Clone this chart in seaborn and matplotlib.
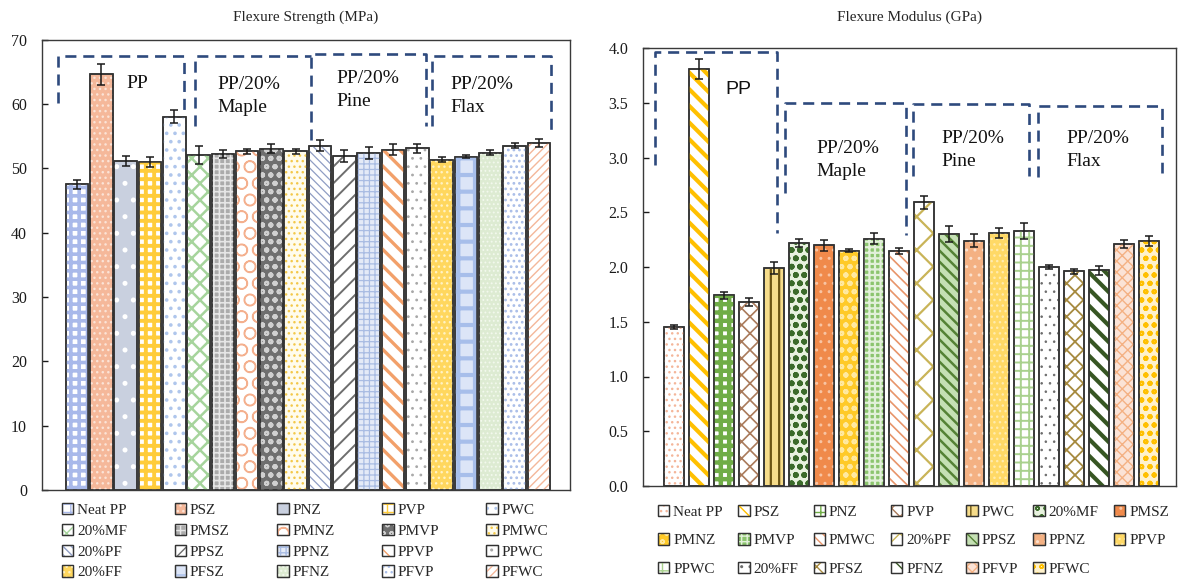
import math
import pandas as pd
import matplotlib
matplotlib.use("Agg")
import matplotlib.pyplot as plt
import matplotlib.patches as mpatches
from matplotlib.legend_handler import HandlerTuple
import seaborn as sns

# ---------------------------------------------------------------- data
samples = ["Neat PP", "PSZ", "PNZ", "PVP", "PWC",
           "20%MF", "PMSZ", "PMNZ", "PMVP", "PMWC",
           "20%PF", "PPSZ", "PPNZ", "PPVP", "PPWC",
           "20%FF", "PFSZ", "PFNZ", "PFVP", "PFWC"]

strength_mpa = [47.5, 64.6, 51.1, 51.0, 58.0,
                52.0, 52.2, 52.6, 53.0, 52.6,
                53.5, 51.9, 52.4, 52.9, 53.1,
                51.3, 51.8, 52.4, 53.5, 53.9]
strength_err = [0.7, 1.6, 0.8, 0.8, 1.0,
                1.4, 0.6, 0.35, 0.7, 0.35,
                0.9, 0.9, 0.9, 0.8, 0.7,
                0.4, 0.2, 0.4, 0.4, 0.6]

modulus_gpa = [1.45, 3.81, 1.74, 1.68, 1.99,
               2.22, 2.20, 2.15, 2.26, 2.145,
               2.59, 2.30, 2.24, 2.31, 2.33,
               2.00, 1.96, 1.97, 2.21, 2.24]
modulus_err = [0.02, 0.09, 0.03, 0.04, 0.055,
               0.035, 0.05, 0.01, 0.05, 0.03,
               0.06, 0.07, 0.06, 0.045, 0.07,
               0.015, 0.02, 0.04, 0.035, 0.045]

group_names = ["PP", "PP/20%\nMaple", "PP/20%\nPine", "PP/20%\nFlax"]

# ---------------------------------------------------------------- styles
# (face colour, hatch, hatch colour, hatch line width)
strength_styles = [
    ("#FFFFFF", "++",   "#A9B9EA", 2.6),
    ("#F5B89A", "...",  "#FBE3D6", 1.0),
    ("#C9D0DF", ".",    "#FFFFFF", 1.2),
    ("#FFFFFF", "++",   "#FFCC3A", 2.8),
    ("#FFFFFF", "..",   "#AFC6EC", 1.4),
    ("#FFFFFF", "xx",   "#A6D49C", 1.8),
    ("#ABABAB", "+++",  "#E6E6E6", 1.2),
    ("#FFFFFF", "O",    "#F4B08E", 1.0),
    ("#6F6F6F", "oo",   "#D0D0D0", 1.4),
    ("#FFFCEC", "...",  "#F3C84A", 1.0),
    ("#FFFFFF", "\\\\\\\\", "#8F9DC4", 0.9),
    ("#FFFFFF", "//",   "#6E6E6E", 1.4),
    ("#E4EAF7", "+++",  "#A9BCE3", 0.9),
    ("#FFFFFF", "\\\\", "#F2A06A", 2.4),
    ("#FFFFFF", "..",   "#A8A8A8", 0.8),
    ("#FFD75E", "...",  "#FFF2C4", 1.0),
    ("#DCE5F7", "+",    "#A7BEEA", 3.0),
    ("#DDEBD2", "....", "#F3F9EE", 0.8),
    ("#FFFFFF", "...",  "#A9BDE8", 1.2),
    ("#FFFFFF", "////", "#F4B79A", 1.0),
]

modulus_styles = [
    ("#FFFFFF", "...",  "#F4B69A", 1.0),
    ("#FFFFFF", "\\\\", "#FFC000", 3.0),
    ("#FFFFFF", "++",   "#70AD47", 3.2),
    ("#FFFFFF", "xx",   "#A97A5B", 1.2),
    ("#F6DC8A", "||",   "#6B5312", 1.6),
    ("#E8F2DF", "oo",   "#3B6B2A", 1.8),
    ("#F08A4B", "..",   "#F8C4A3", 1.0),
    ("#FFCA28", "oo",   "#FFE9A0", 1.4),
    ("#8CC56E", "+++",  "#E2F0D9", 1.6),
    ("#FFFFFF", "\\\\\\", "#E8956A", 1.2),
    ("#FFFFFF", "x",    "#C9B458", 1.6),
    ("#C5E0B4", "\\\\\\", "#548235", 1.8),
    ("#F4B183", "..",   "#FBE0CD", 1.0),
    ("#FFD966", "...",  "#FFEBAE", 1.0),
    ("#FFFFFF", "++",   "#A9D18E", 1.4),
    ("#FFFFFF", "..",   "#6A6A6A", 0.6),
    ("#FFFFFF", "xx",   "#A68A3F", 1.3),
    ("#FFFFFF", "\\\\", "#375623", 3.0),
    ("#FBE3D6", "xxx",  "#F4B183", 1.0),
    ("#FFF2CC", "oo",   "#FFC000", 1.4),
]

# group frames: (x_left, x_right, top, left_bottom, right_bottom)
strength_frames = [(-0.78, 4.42, 67.4, 60.1, 56.5),
                   (4.85, 9.62, 67.4, 56.5, 67.4),
                   (9.62, 14.37, 67.7, 54.4, 56.5),
                   (14.61, 19.5, 67.4, 56.5, 56.0)]
strength_label_pos = [(2.05, 63.2, "left"), (5.77, 61.2, "left"),
                      (10.66, 62.2, "left"), (15.37, 61.2, "left")]

modulus_frames = [(-0.78, 4.13, 3.96, 2.93, 2.31),
                  (4.43, 9.27, 3.50, 2.68, 2.29),
                  (9.55, 14.21, 3.49, 2.83, 2.83),
                  (14.56, 19.52, 3.47, 2.82, 2.86)]
modulus_label_pos = [(2.07, 3.62, "left"), (5.71, 2.98, "left"),
                     (10.69, 3.07, "left"), (15.7, 3.07, "left")]

EDGE = "#333333"
FRAME = "#2E4A7D"

sns.set_theme(style="white")
plt.rcParams["font.family"] = ["Liberation Serif", "DejaVu Serif"]
plt.rcParams["hatch.linewidth"] = 1.0

W, H = 1178, 581
fig = plt.figure(figsize=(W / 100, H / 100), dpi=100)
ax_s = fig.add_axes([41.7 / W, 1 - 490 / H, (570 - 41.7) / W, (490 - 39.5) / H])
ax_m = fig.add_axes([643 / W, 1 - 486 / H, (1176 - 643) / W, (486 - 48) / H])


def draw_bars(ax, values, errors, styles, width):
    df = pd.DataFrame({"sample": samples, "value": values})
    faces = [s[0] for s in styles]
    sns.barplot(data=df, x="sample", y="value", hue="sample",
                order=samples, hue_order=samples, palette=faces,
                saturation=1, width=width, edgecolor=EDGE, linewidth=1.1,
                errorbar=None, legend=False, ax=ax)
    bars = list(ax.patches)[:len(samples)]
    centers = []
    for bar, (face, hatch, hcol, hlw) in zip(bars, styles):
        bar.set_zorder(2)
        xy, w, h = bar.get_xy(), bar.get_width(), bar.get_height()
        over = mpatches.Rectangle(xy, w, h, facecolor="none", edgecolor=hcol,
                                  hatch=hatch, linewidth=0, zorder=2.1)
        if hasattr(over, "set_hatch_linewidth"):
            over.set_hatch_linewidth(hlw)
        ax.add_patch(over)
        ax.add_patch(mpatches.Rectangle(xy, w, h, fill=False, edgecolor=EDGE,
                                        linewidth=1.1, zorder=2.2))
        centers.append(xy[0] + w / 2)
    ax.errorbar(centers, values, yerr=errors, fmt="none", ecolor="#1A1A1A",
                elinewidth=1.1, capsize=3.2, capthick=1.1, zorder=4)


def legend_handles(styles):
    handles = []
    for face, hatch, hcol, hlw in styles:
        base = mpatches.Patch(facecolor=face, edgecolor=EDGE, linewidth=0.9)
        tex = mpatches.Patch(facecolor="none", edgecolor=hcol, hatch=hatch,
                             linewidth=0)
        if hasattr(tex, "set_hatch_linewidth"):
            tex.set_hatch_linewidth(min(hlw, 1.2))
        line = mpatches.Patch(fill=False, edgecolor=EDGE, linewidth=0.9)
        handles.append((base, tex, line))
    return handles


def row_major(items, ncol):
    n = len(items)
    nrows = math.ceil(n / ncol)
    idx = [r * ncol + c for c in range(ncol) for r in range(nrows)
           if r * ncol + c < n]
    return [items[i] for i in idx]


def style_axis(ax, xlim, ylim, yticks, fmt):
    ax.set_xlim(*xlim)
    ax.set_ylim(*ylim)
    ax.set_xticks([])
    ax.set_xlabel("")
    ax.set_ylabel("")
    ax.set_yticks(yticks)
    ax.set_yticklabels([fmt.format(v) for v in yticks], fontsize=11.5)
    ax.tick_params(axis="y", left=True, direction="in", length=4,
                   width=1, pad=10.5, colors="#1A1A1A")
    for sp in ax.spines.values():
        sp.set_visible(True)
        sp.set_color("#3A3A3A")
        sp.set_linewidth(1.0)


def draw_frames(ax, frames, labels, positions, size, families):
    for (x0, x1, top, lb, rb) in frames:
        ax.plot([x0, x0, x1, x1], [lb, top, top, rb], color=FRAME, lw=1.9,
                ls=(0, (4.2, 2.6)), zorder=1.5, solid_joinstyle="miter")
    for text, (x, y, ha), fam in zip(labels, positions, families):
        ax.text(x, y, text, ha=ha, va="center", fontsize=size,
                family=fam, linespacing=1.45, color="#111111", zorder=5)


# ---------------------------------------------------------------- left panel
draw_bars(ax_s, strength_mpa, strength_err, strength_styles, 0.93)
style_axis(ax_s, (-1.45, 20.28), (0, 70), list(range(0, 71, 10)), "{:d}")
draw_frames(ax_s, strength_frames, group_names, strength_label_pos, 14,
            [["Liberation Serif"]] * 4)

# ---------------------------------------------------------------- right panel
draw_bars(ax_m, modulus_gpa, modulus_err, modulus_styles, 0.8)
mod_ticks = [i * 0.5 for i in range(9)]
style_axis(ax_m, (-1.24, 20.08), (0, 4.0), mod_ticks, "{:.1f}")
draw_frames(ax_m, modulus_frames, group_names, modulus_label_pos, 14,
            [["Liberation Sans"]] + [["Liberation Serif"]] * 3)

# ---------------------------------------------------------------- titles
fig.text((41.7 + 570) / 2 / W, 1 - 17 / H, "Flexure Strength (MPa)",
         ha="center", va="center", fontsize=11)
fig.text((643 + 1176) / 2 / W, 1 - 17 / H, "Flexure Modulus (GPa)",
         ha="center", va="center", fontsize=11)

# ---------------------------------------------------------------- legends
hmap = {tuple: HandlerTuple(ndivide=1, pad=0)}
leg_s = ax_s.legend(row_major(legend_handles(strength_styles), 5),
                    row_major(samples, 5), ncol=5, loc="upper left",
                    bbox_to_anchor=(62 / W, 1 - 503 / H),
                    bbox_transform=fig.transFigure, frameon=False,
                    fontsize=11, handlelength=0.75, handleheight=0.75,
                    handletextpad=0.25, columnspacing=3.1, labelspacing=0.45,
                    borderpad=0, borderaxespad=0, handler_map=hmap)
leg_m = ax_m.legend(row_major(legend_handles(modulus_styles), 7),
                    row_major(samples, 7), ncol=7, loc="upper left",
                    bbox_to_anchor=(658 / W, 1 - 505 / H),
                    bbox_transform=fig.transFigure, frameon=False,
                    fontsize=11, handlelength=0.75, handleheight=0.75,
                    handletextpad=0.25, columnspacing=1.0, labelspacing=0.95,
                    borderpad=0, borderaxespad=0, handler_map=hmap)

fig.savefig("out.png", dpi=100)
